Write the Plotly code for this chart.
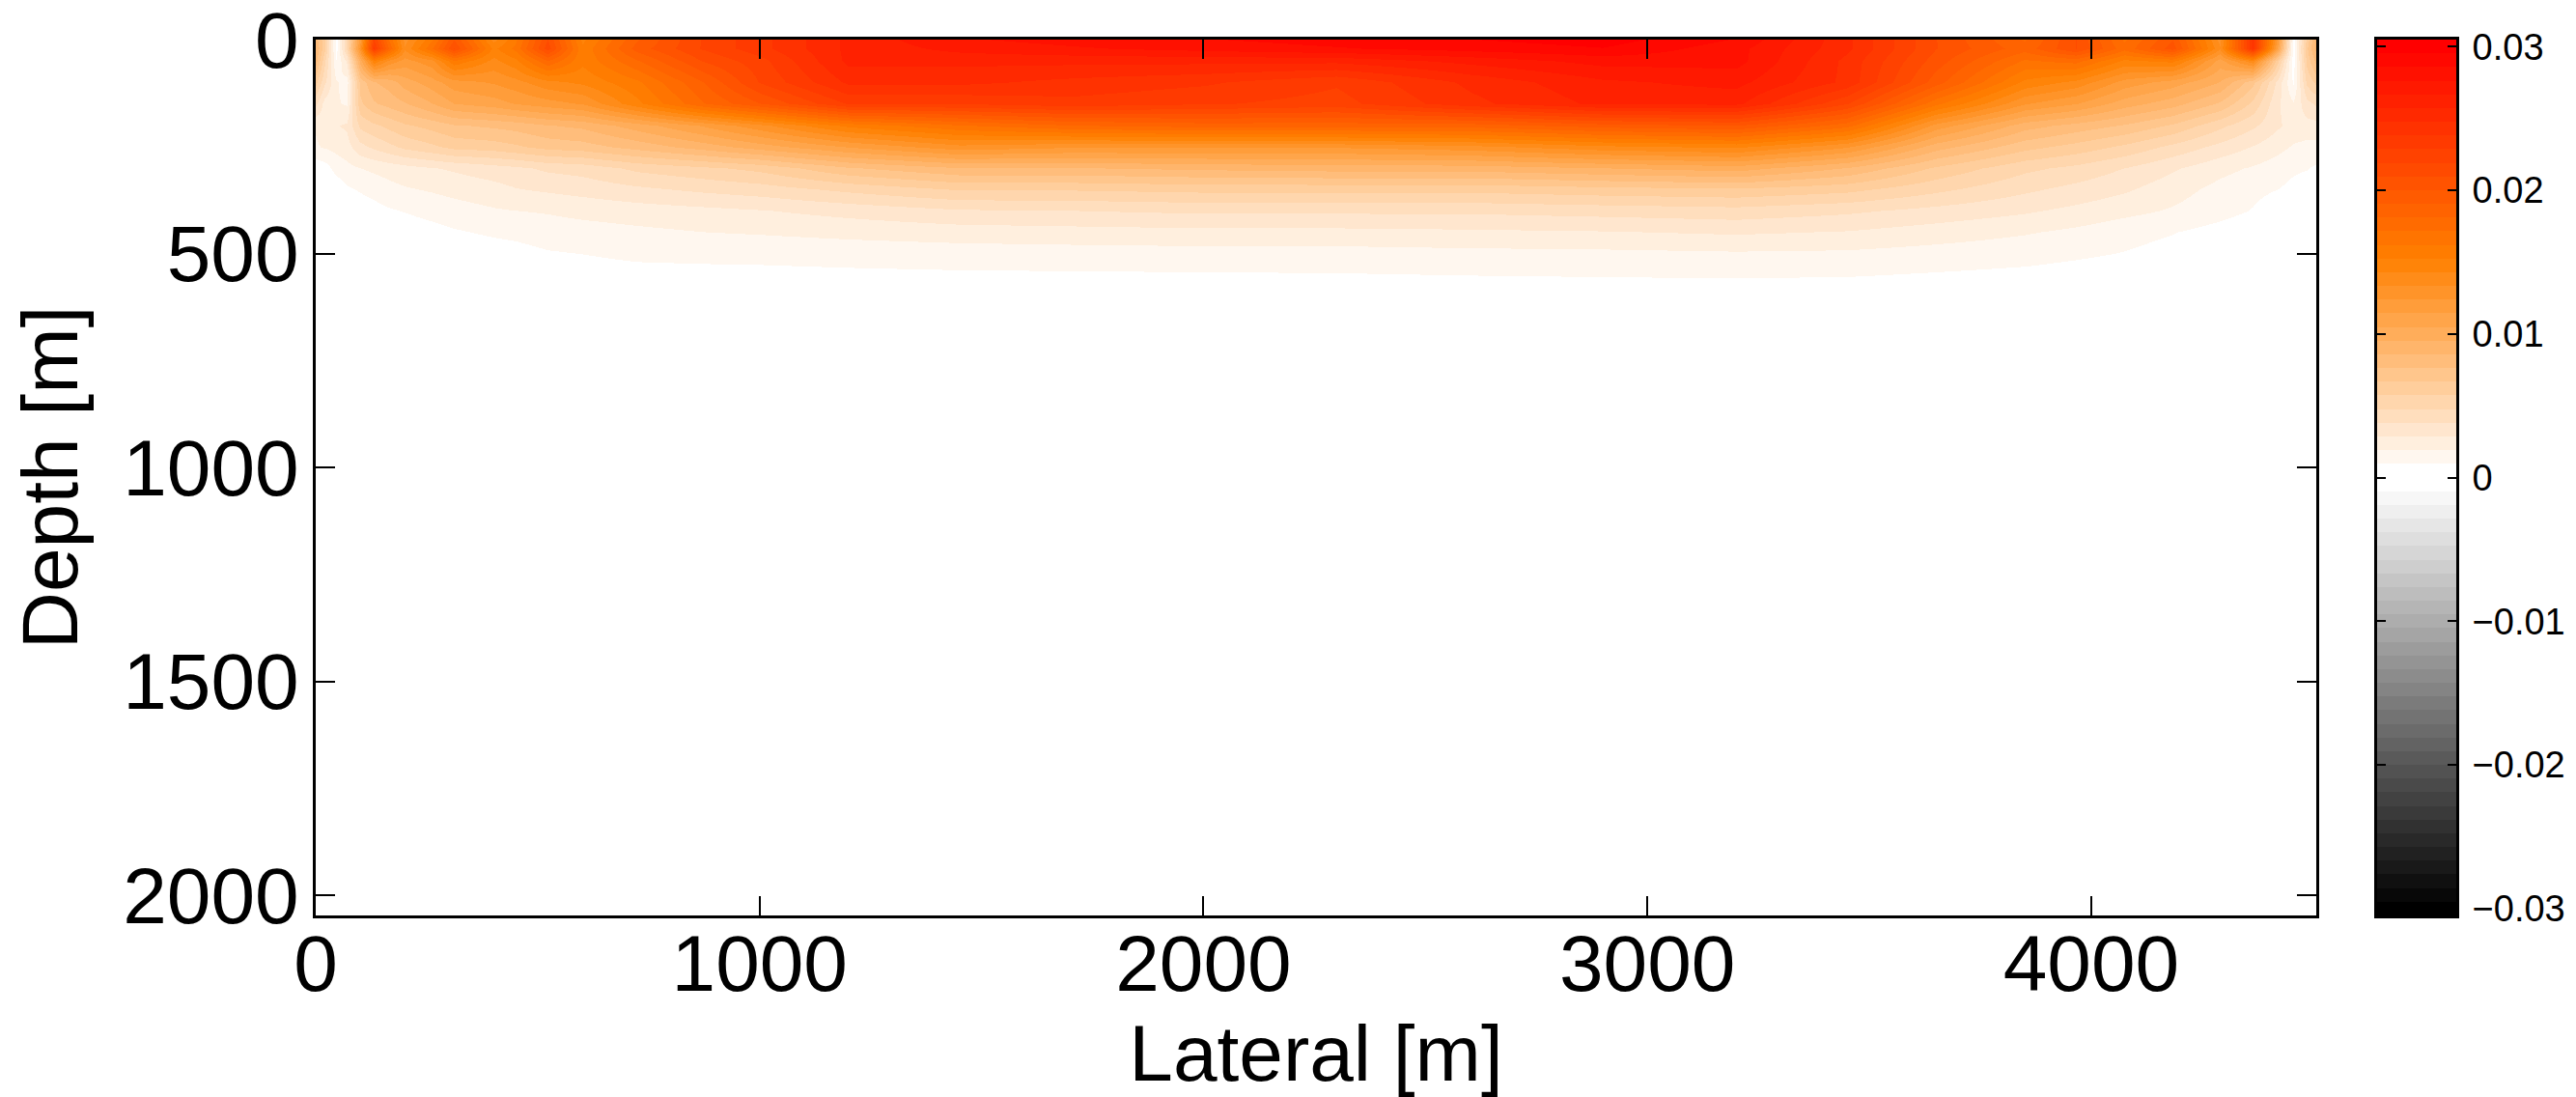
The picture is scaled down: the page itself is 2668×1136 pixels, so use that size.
import numpy as np
import plotly.graph_objects as go

W, H = 2668, 1136

# Sample positions of the gridded field
lateral_m = [0, 20, 45, 70, 100, 130, 165, 200, 260, 312, 400, 450, 522, 600, 725, 870,
             1000, 1200, 1450, 1700, 2000, 2300, 2600, 2900, 3200, 3450, 3650, 3850,
             3965, 4075, 4183, 4290, 4363, 4420, 4455, 4485, 4507]
depth_m = [0, 20, 50, 100, 150, 200, 250, 300, 350, 400, 450, 500, 550, 600, 2047]

# Field values in units of 1e-3, one row per depth sample
d000 = [8, 6, 0.5, 5, 12, 22, 17, 13, 16, 20, 14, 16, 21, 15, 19, 22, 23.5, 26, 27.5, 28, 28.5, 29, 29.5, 30, 28.5, 25, 21, 18, 21, 17, 20, 13, 24, 12, 0.5, 6, 9]
d020 = [8.5, 6, 0.5, 5, 13, 23, 18, 13.5, 17, 21, 15, 16.5, 21.5, 15.5, 19.5, 22, 23.5, 26, 27, 27.5, 28, 28.5, 29, 29.5, 28, 25, 21, 18.5, 21, 17.5, 20.5, 13.5, 24, 11, 0.5, 6.5, 9]
d050 = [8, 5, 1, 3, 10, 15, 13, 12, 13, 16, 14, 15, 18, 15.5, 18, 21, 22.5, 26, 26, 26, 26, 26, 27, 28, 28, 24.5, 20.5, 17, 17.5, 15, 15.5, 11, 14, 6, 0.5, 6, 8]
d100 = [6, 4, 2, 1.5, 7, 8.5, 9, 10, 11, 12, 12.5, 13, 14, 14.5, 16, 19, 22, 25, 25, 24.5, 24, 23, 25, 26.5, 27, 24.5, 19.5, 15, 14, 12, 11, 9.5, 7, 3.5, 0.8, 5, 6]
d150 = [4, 2.5, 2, 1.8, 6.5, 7.5, 8, 8.5, 9.5, 10.5, 11, 11.5, 12, 12.5, 15, 18, 20, 23, 23, 23.5, 23, 22.5, 24.5, 26, 26, 22, 16.5, 12.5, 11.5, 10, 9, 7.5, 5.5, 3, 2, 3.5, 4]
d200 = [2, 2.5, 2.8, 3, 5, 5.5, 6, 6.5, 7, 7.5, 7.8, 8, 8.5, 8.8, 10, 11.5, 13, 15.5, 17, 18, 18.5, 18.5, 18.5, 19.5, 20, 17.5, 12, 9, 8.2, 7.5, 6.5, 5, 4, 3, 2.5, 2.5, 2.5]
d250 = [1.8, 2, 2.2, 2.5, 3.5, 4, 4.5, 5, 5.5, 6, 6.2, 6.5, 7, 7.2, 8, 9, 10, 11.5, 13, 12.5, 12.5, 12.5, 13, 14, 14.5, 12.5, 9, 7, 6.3, 5.5, 4.5, 3.5, 2.8, 2.2, 1.8, 1.6, 1.6]
d300 = [0.3, 0.5, 1.3, 1.6, 1.9, 2.1, 2.3, 2.5, 2.8, 3, 3.4, 3.6, 4, 4.2, 5, 5.5, 6, 7.5, 8.5, 8.5, 8.8, 9, 9, 9.5, 10, 8.5, 6.5, 5, 4.5, 3.8, 3, 2.2, 1.8, 1.4, 1.1, 1.0, 0.8]
d350 = [0, 0, 0.3, 0.8, 1.05, 1.3, 1.6, 1.8, 2.0, 2.2, 2.5, 2.8, 3, 3.2, 3.6, 4, 4.3, 5, 5.8, 5.8, 6, 6, 6, 6.3, 6.5, 6, 5, 4, 3.5, 3, 2.3, 1.6, 1.2, 0.95, 0.7, 0.5, 0.4]
d400 = [0, 0, 0, 0, 0.4, 0.6, 0.85, 1.0, 1.3, 1.5, 1.8, 1.9, 2, 2.2, 2.4, 2.6, 2.8, 3.2, 3.7, 3.8, 4, 4, 4, 4.2, 4.4, 4, 3.5, 3, 2.6, 2.2, 1.8, 1.3, 0.9, 0.4, 0.2, 0, 0]
d450 = [0, 0, 0, 0, 0, 0, 0.2, 0.4, 0.6, 0.85, 1.1, 1.2, 1.4, 1.5, 1.7, 1.9, 2, 2.2, 2.4, 2.5, 2.6, 2.6, 2.7, 2.8, 3, 2.8, 2.4, 2, 1.7, 1.3, 1.0, 0.6, 0.3, 0, 0, 0, 0]
d500 = [0, 0, 0, 0, 0, 0, 0, 0, 0.2, 0.35, 0.5, 0.6, 0.85, 0.95, 1.15, 1.2, 1.2, 1.3, 1.4, 1.45, 1.5, 1.5, 1.6, 1.65, 1.75, 1.7, 1.5, 1.3, 1.1, 0.9, 0.6, 0.3, 0, 0, 0, 0, 0]
d550 = [0, 0, 0, 0, 0, 0, 0, 0, 0, 0, 0, 0.1, 0.3, 0.5, 0.6, 0.65, 0.7, 0.75, 0.8, 0.82, 0.85, 0.88, 0.95, 1.0, 1.05, 1.0, 0.85, 0.7, 0.55, 0.4, 0.2, 0, 0, 0, 0, 0, 0]
d600 = [0, 0, 0, 0, 0, 0, 0, 0, 0, 0, 0, 0, 0, 0, 0.05, 0.1, 0.15, 0.2, 0.25, 0.25, 0.25, 0.25, 0.3, 0.3, 0.3, 0.25, 0.2, 0.1, 0, 0, 0, 0, 0, 0, 0, 0, 0]
d2047 = [0] * 37

field_rows = [d000, d020, d050, d100, d150, d200, d250, d300, d350, d400, d450, d500, d550, d600, d2047]
for row in field_rows:
    assert len(row) == len(lateral_m)
field = np.array(field_rows, dtype=float) * 1e-3

# Colour limits and colourbar ticks
c_lim = 0.0305
cbar_ticks = [-0.03, -0.02, -0.01, 0, 0.01, 0.02, 0.03]
cbar_labels = ["\u22120.03", "\u22120.02", "\u22120.01", "0", "0.01", "0.02", "0.03"]
x_ticks = [0, 1000, 2000, 3000, 4000]
y_ticks = [0, 500, 1000, 1500, 2000]

# 64-step map: black -> white for negatives, white -> orange -> red for positives
N = 64
def band_rgb(i):
    if i < N // 2:
        g = round(255 * i / (N // 2 - 1))
        return (g, g, g)
    t = (i - N // 2) / (N // 2 - 1)
    if t <= 0.5:
        s = t / 0.5
        return (255, round(255 - 127 * s), round(255 - 255 * s))
    s = (t - 0.5) / 0.5
    return (255, round(128 * (1 - s)), 0)

colorscale = []
for i in range(N):
    c = "rgb(%d,%d,%d)" % band_rgb(i)
    colorscale.append([i / N, c])
    colorscale.append([(i + 1) / N, c])

FONT = "Liberation Sans, Arial, Helvetica, sans-serif"

fig = go.Figure()
fig.add_trace(go.Heatmap(
    x=lateral_m, y=depth_m, z=field,
    zmin=-c_lim, zmax=c_lim, colorscale=colorscale,
    zsmooth="best", showscale=False, hoverinfo="skip",
    xaxis="x", yaxis="y",
))

# Colourbar drawn as its own narrow axes so ticks sit on both edges
band_centres = [-c_lim + (i + 0.5) * (2 * c_lim / N) for i in range(N)]
fig.add_trace(go.Heatmap(
    x=[0], y=band_centres, z=[[v] for v in band_centres],
    zmin=-c_lim, zmax=c_lim, colorscale=colorscale,
    showscale=False, hoverinfo="skip", xaxis="x2", yaxis="y2",
))

px_x = lambda p: p / W
px_y = lambda p: 1 - p / H

axis_common = dict(
    showline=True, linewidth=3, linecolor="black", mirror="allticks",
    ticks="inside", tickcolor="black", showgrid=False, zeroline=False,
    automargin=False, ticklabeloverflow="allow",
)

fig.update_layout(
    width=W, height=H,
    margin=dict(l=0, r=0, t=0, b=0, autoexpand=False),
    paper_bgcolor="white", plot_bgcolor="white",
    font=dict(family=FONT, color="black"),
    showlegend=False,
    xaxis=dict(
        domain=[px_x(327), px_x(2399)], anchor="y",
        range=[0, 4507], tickvals=x_ticks, ticklen=20, tickwidth=2,
        tickfont=dict(size=82, family=FONT), ticklabelstandoff=-23,
        title=dict(text="Lateral [m]", font=dict(size=82, family=FONT), standoff=27),
        **axis_common,
    ),
    yaxis=dict(
        domain=[px_y(948), px_y(41)], anchor="x",
        range=[2047, 0], tickvals=y_ticks, ticklen=20, tickwidth=2,
        tickfont=dict(size=82, family=FONT), ticklabelstandoff=-2,
        title=dict(text="Depth [m]", font=dict(size=82, family=FONT), standoff=20),
        **axis_common,
    ),
    xaxis2=dict(
        domain=[px_x(2462), px_x(2544)], anchor="y2",
        range=[-0.5, 0.5], showticklabels=False,
        showline=True, linewidth=3, linecolor="black", mirror=True,
        ticks="", showgrid=False, zeroline=False, fixedrange=True,
        automargin=False,
    ),
    yaxis2=dict(
        domain=[px_y(948), px_y(41)], anchor="x2", side="right",
        range=[-c_lim, c_lim], tickvals=cbar_ticks, ticktext=cbar_labels,
        ticklen=9, tickwidth=2, tickfont=dict(size=38, family=FONT),
        ticklabelstandoff=6,
        **axis_common,
    ),
)

fig.write_html("out.html")
